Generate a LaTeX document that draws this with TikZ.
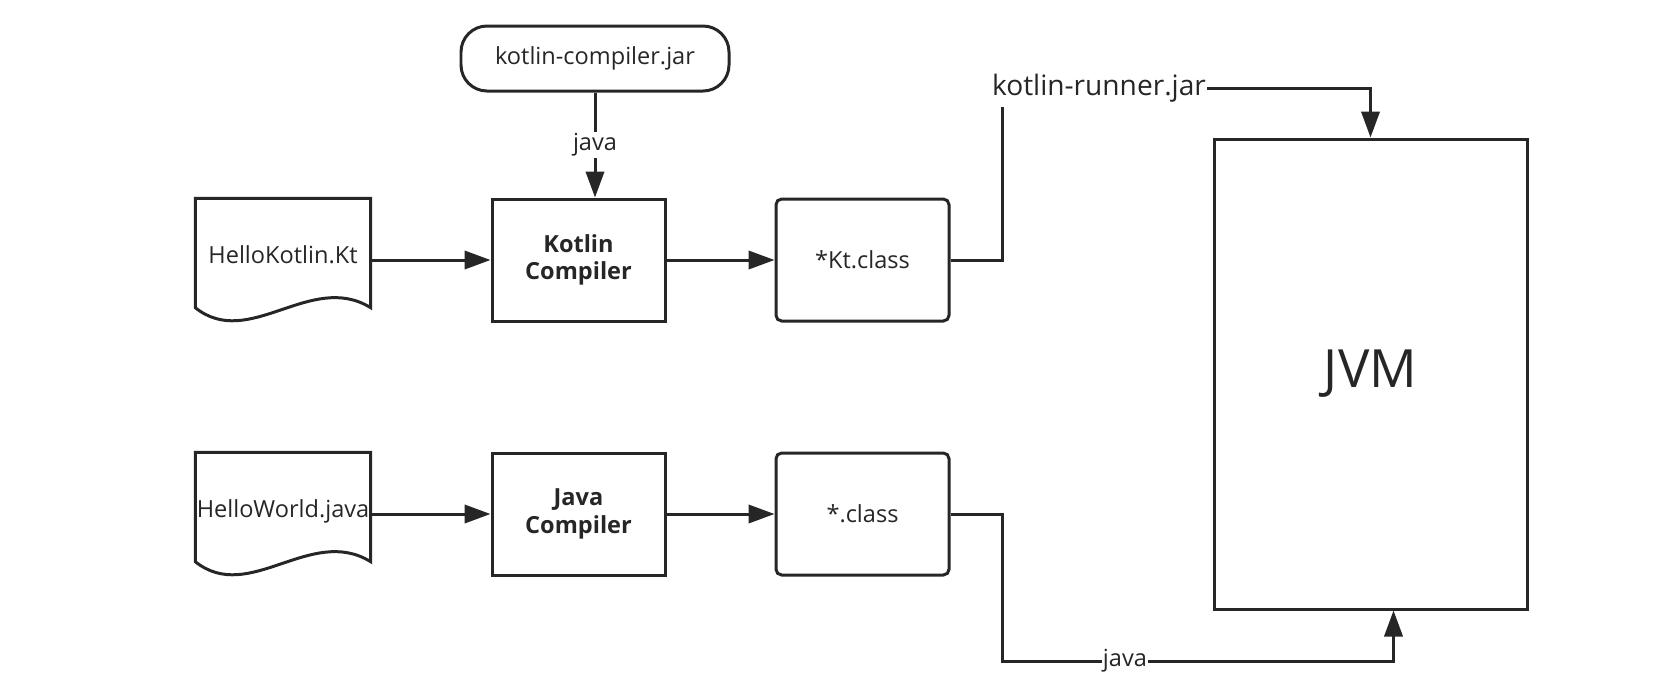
\documentclass[tikz,border=0pt]{standalone}
\usepackage{fontspec}
\setmainfont{Open Sans}
\usepackage{tikz}
\usetikzlibrary{arrows.meta}

\definecolor{ink}{HTML}{262626}

\tikzset{
  wire/.style={draw=ink, line width=0.85pt},
  arr/.style={wire, -{Triangle[length=7.4pt,width=5.2pt]}},
  txt/.style={text=ink, font=\fontsize{6.7}{7.8}\selectfont},
  box/.style={wire, txt, minimum width=1.73cm, minimum height=1.22cm, align=center, inner sep=0pt},
  rbox/.style={box, rounded corners=1.6pt},
  doc/.style={txt, minimum width=1.74cm, minimum height=1.22cm, inner sep=0pt, text depth=0.1cm},
  lbl/.style={txt, fill=white, inner sep=0.4pt}
}

\begin{document}
\begin{tikzpicture}
    \useasboundingbox (0,0) rectangle (16.8,6.8);
    % top row: kotlin
    \node[wire, txt, rounded corners=2.6mm, minimum width=2.68cm, minimum height=0.65cm] (jar) at (5.95,6.215) {kotlin-compiler.jar};
    \node[doc] (kt) at (2.83,4.2) {HelloKotlin.Kt};
    \node[box, font=\bfseries\fontsize{6.7}{7.8}\selectfont] (kc) at (5.785,4.2) {Kotlin\\Compiler};
    \node[rbox] (ktc) at (8.625,4.2) {*Kt.class};
    % bottom row: java
    \node[doc] (jw) at (2.83,1.66) {HelloWorld.java};
    \node[box, font=\bfseries\fontsize{6.7}{7.8}\selectfont] (jc) at (5.785,1.66) {Java\\Compiler};
    \node[rbox] (cls) at (8.625,1.66) {*.class};
    % runtime
    \node[wire, text=ink, minimum width=3.13cm, minimum height=4.7cm, font=\fontsize{15}{18}\selectfont] (jvm) at (13.705,3.06) {JVM};
    \node[text=ink, inner sep=0pt, font=\fontsize{8}{9.6}\selectfont] (runner) at (10.99,5.92) {kotlin-runner.jar};
    \coordinate (rup) at (10.02,5.73);
    \coordinate (low) at (10.02,0.19);
    \coordinate (jin) at ([xshift=0.23cm]jvm.south);

    % document outlines
    \foreach \n in {kt,jw}
      \draw[wire] ([yshift=0.14cm]\n.south west) |- (\n.north east) -- ([yshift=0.14cm]\n.south east)
        .. controls +(-0.6,0.37) and +(0.54,-0.43) .. ([yshift=0.14cm]\n.south west) -- cycle;

    \draw [arr] (jar.south) -- node[lbl] {java} (jar.south |- kc.north);
    \draw [arr] (kt) -- (kc);
    \draw [arr] (kc) -- (ktc);
    \draw [arr] (jw) -- (jc);
    \draw [arr] (jc) -- (cls);
    \draw [wire] (ktc.east) -| (rup);
    \draw [arr] (runner.east) -| (jvm.north);
    \draw [arr] (cls.east) -| (low) -| node[lbl, pos=0.157] {java} (jin);
\end{tikzpicture}
\end{document}
